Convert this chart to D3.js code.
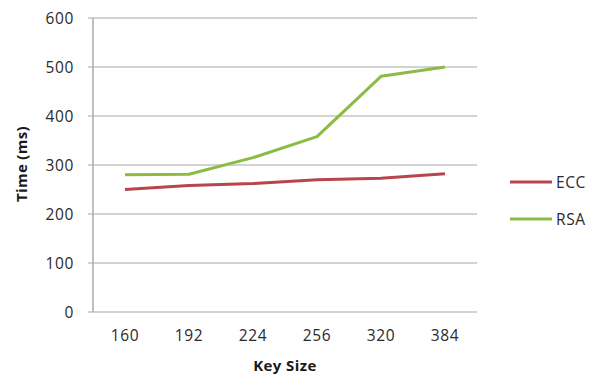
<!DOCTYPE html>
<html><head><meta charset="utf-8">
<script src="https://cdn.jsdelivr.net/npm/d3@7"></script>
<style>body{margin:0;background:#fff}svg{display:block}text{font-family:"Open Sans",sans-serif}</style>
</head><body><svg id="c" width="602" height="376"></svg>
<script>
const categories = ["160","192","224","256","320","384"];
const ecc = [250, 258, 262, 270, 273, 282];
const rsa = [280, 281, 315, 358, 481, 500];
const yTicks = [0,100,200,300,400,500,600];
const seriesNames = ["ECC","RSA"];
const colors = ["#b8444c","#8cbb44"];

const svg = d3.select("#c");
const x = d3.scaleBand().domain(categories).range([93,477]);
const y = d3.scaleLinear().domain([0,600]).range([312,18]);

svg.append("g").selectAll("line").data(yTicks).join("line")
  .attr("x1",88).attr("x2",477).attr("y1",d=>y(d)).attr("y2",d=>y(d))
  .attr("stroke","#c4c4c4").attr("stroke-width",1.6);
svg.append("line").attr("x1",93).attr("x2",93).attr("y1",y(600)).attr("y2",y(0))
  .attr("stroke","#b0b0b0").attr("stroke-width",1.6);

const yAxis = d3.axisLeft(y).tickValues(yTicks).tickSize(0).tickPadding(19);
const ga = svg.append("g").attr("transform","translate(93,0)").call(yAxis);
ga.select(".domain").remove();
ga.selectAll("text").attr("font-size",15.5).attr("letter-spacing",0.6).attr("fill","#2a2a2a").attr("dy","0.35em");

const xAxis = d3.axisBottom(x).tickSize(0).tickPadding(18);
const gx = svg.append("g").attr("transform","translate(0,312)").call(xAxis);
gx.select(".domain").remove();
gx.selectAll("text").attr("font-size",15.5).attr("letter-spacing",0.6).attr("fill","#2a2a2a");

const line = d3.line().x((d,i)=>x(categories[i])+x.bandwidth()/2).y(d=>y(d));
[ecc,rsa].forEach((s,i)=>{
  svg.append("path").attr("d",line(s)).attr("fill","none")
    .attr("stroke",colors[i]).attr("stroke-width",3).attr("stroke-linejoin","round");
});

seriesNames.forEach((n,i)=>{
  const ly = 182 + i*37;
  svg.append("line").attr("x1",510).attr("x2",552).attr("y1",ly).attr("y2",ly)
    .attr("stroke",colors[i]).attr("stroke-width",3);
  svg.append("text").attr("x",556).attr("y",ly+6).text(n).attr("font-size",15.5)
    .attr("letter-spacing",0.6).attr("fill","#2a2a2a");
});

svg.append("text").attr("x",285).attr("y",371).attr("text-anchor","middle")
  .attr("font-size",15).attr("letter-spacing",0.4).attr("font-weight","bold").attr("fill","#1a1a1a").text("Key Size");
svg.append("text").attr("transform","translate(27,164) rotate(-90)").attr("text-anchor","middle")
  .attr("font-size",15).attr("letter-spacing",0.3).attr("font-weight","bold").attr("fill","#1a1a1a").text("Time (ms)");
</script></body></html>
